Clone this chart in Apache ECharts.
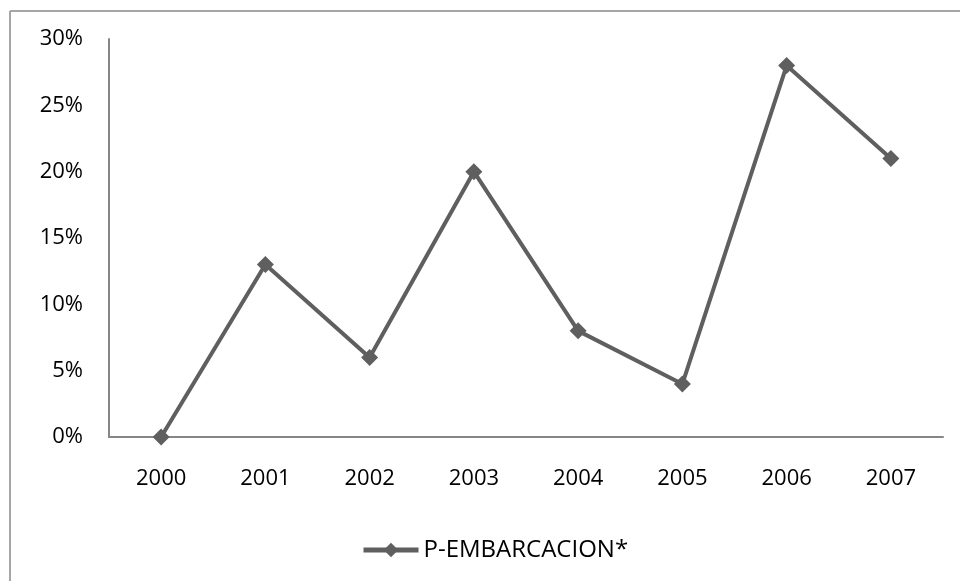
<!DOCTYPE html>
<html>
<head>
<meta charset="utf-8">
<script src="https://cdn.jsdelivr.net/npm/echarts@6/dist/echarts.min.js"></script>
<style>html,body{margin:0;padding:0;background:#fff;}#c{width:960px;height:581px;}</style>
</head>
<body>
<div id="c"></div>
<script>
var years = ['2000','2001','2002','2003','2004','2005','2006','2007'];
var values = [0, 13, 6, 20, 8, 4, 28, 21];
var seriesName = 'P-EMBARCACION*';
var yTicks = [0, 5, 10, 15, 20, 25, 30];

var chart = echarts.init(document.getElementById('c'));
var font = '"Open Sans", "Liberation Sans", sans-serif';
chart.setOption({
  animation: false,
  backgroundColor: '#fff',
  graphic: [
    {type: 'line', shape: {x1: 10, y1: 11, x2: 10, y2: 581}, style: {stroke: '#a6a6a6', lineWidth: 2}},
    {type: 'line', shape: {x1: 10, y1: 11, x2: 960, y2: 11}, style: {stroke: '#a6a6a6', lineWidth: 2}}
  ],
  grid: {left: 109, right: 17, top: 39, bottom: 144, containLabel: false},
  legend: {
    data: [seriesName],
    top: 533,
    left: 356,
    itemWidth: 55,
    itemHeight: 18,
    itemGap: 6,
    lineStyle: {width: 5},
    textStyle: {fontFamily: font, fontSize: 24, color: '#000'}
  },
  xAxis: {
    type: 'category',
    data: years,
    boundaryGap: true,
    axisLine: {lineStyle: {color: '#868686', width: 2}},
    axisTick: {show: false},
    axisLabel: {fontFamily: font, fontSize: 22, color: '#000', margin: 31}
  },
  yAxis: {
    type: 'value',
    min: yTicks[0],
    max: yTicks[yTicks.length - 1],
    interval: 5,
    axisLine: {show: true, lineStyle: {color: '#868686', width: 2}},
    axisTick: {show: false},
    splitLine: {show: false},
    axisLabel: {fontFamily: font, fontSize: 22, color: '#000', margin: 26, formatter: '{value}%'}
  },
  series: [{
    name: seriesName,
    type: 'line',
    data: values,
    symbol: 'diamond',
    symbolSize: 17,
    lineStyle: {color: '#5f5f5f', width: 4},
    itemStyle: {color: '#5f5f5f'}
  }]
});
</script>
</body>
</html>
